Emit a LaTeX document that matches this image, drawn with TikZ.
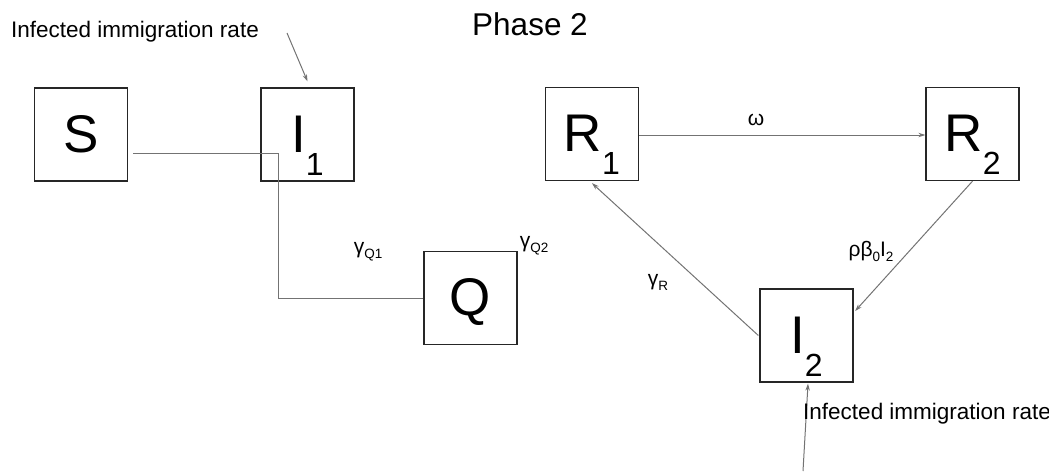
\documentclass[tikz,border=0pt]{standalone}
\usepackage{fontspec}
\setmainfont{Liberation Sans}
\usetikzlibrary{arrows.meta}
\newcommand\bigsub[1]{\raisebox{-23pt}{\fontsize{32}{32}\selectfont #1}}
\newcommand\lab[1]{\fontsize{21}{24}\selectfont #1}
\newcommand\smallsub[1]{\raisebox{-5pt}{\fontsize{13.5}{14}\selectfont #1}}
\tikzset{
  stock/.style={draw=black!85, line width=1.3pt, minimum width=93pt, minimum height=93pt,
    inner sep=0pt, text height=35pt, text depth=0pt, font=\fontsize{53}{53}\selectfont},
  link/.style={draw=black!55, line width=1pt},
  flow/.style={link, -{Stealth[length=7pt,width=4.5pt]}},
  rate/.style={inner sep=0pt, font=\lab},
  note/.style={inner sep=0pt, anchor=base west, font=\fontsize{22.5}{26}\selectfont},
}
\begin{document}
\begin{tikzpicture}[x=1pt, y=-1pt]
\useasboundingbox (0,0) rectangle (1049,471);

% title
\node[inner sep=0pt, anchor=base, font=\fontsize{31.5}{36}\selectfont] (title) at (530,35) {Phase 2};

% compartments
\node[stock] (S)  at (81,134.5)  {S};
\node[stock] (I1) at (307.5,134.5) {I\bigsub{1}};
\node[stock] (Q)  at (470.5,298) {Q};
\node[stock] (R1) at (592,134)   {R\bigsub{1}};
\node[stock] (R2) at (972.5,134) {R\bigsub{2}};
\node[stock] (I2) at (806.5,335.5) {I\bigsub{2}};

% inflow of infected immigrants into I1
\node[note] (imm1) at (11,37) {Infected immigration rate};
\coordinate (imm1src) at (287,33);
\draw[flow] (imm1src) -- ([yshift=6pt]I1.north);

% S -- I1 -- Q line
\draw[link] ([shift={(5pt,-18.5pt)}]S.east) -- ++(145pt,0pt) |- (Q.west);
\node[rate] (gQ1) at (368,252) {γ\smallsub{Q1}};
\node[rate] (gQ2) at (534,246) {γ\smallsub{Q2}};

% recovered / reinfection cycle
\draw[flow] ([yshift=-1pt]R1.east) -- ([yshift=-1pt]R2.west);
\node[rate, anchor=base] (omega) at (756,125) {ω};

\draw[flow] (R2.south) -- ([shift={(1.5pt,24.5pt)}]I2.east);
\node[rate] (rho) at (871,251) {ρβ\smallsub{0}I\smallsub{2}};

\draw[flow] ([xshift=-1pt]I2.west) -- ([yshift=-2pt]R1.south);
\node[rate] (gR) at (658,282) {γ\smallsub{R}};

% inflow of infected immigrants into I2
\coordinate (imm2src) at (803,471);
\draw[flow] (imm2src) -- ([xshift=1.5pt,yshift=-1pt]I2.south);
\node[note] (imm2) at (803,419) {Infected immigration rate};
\end{tikzpicture}
\end{document}
